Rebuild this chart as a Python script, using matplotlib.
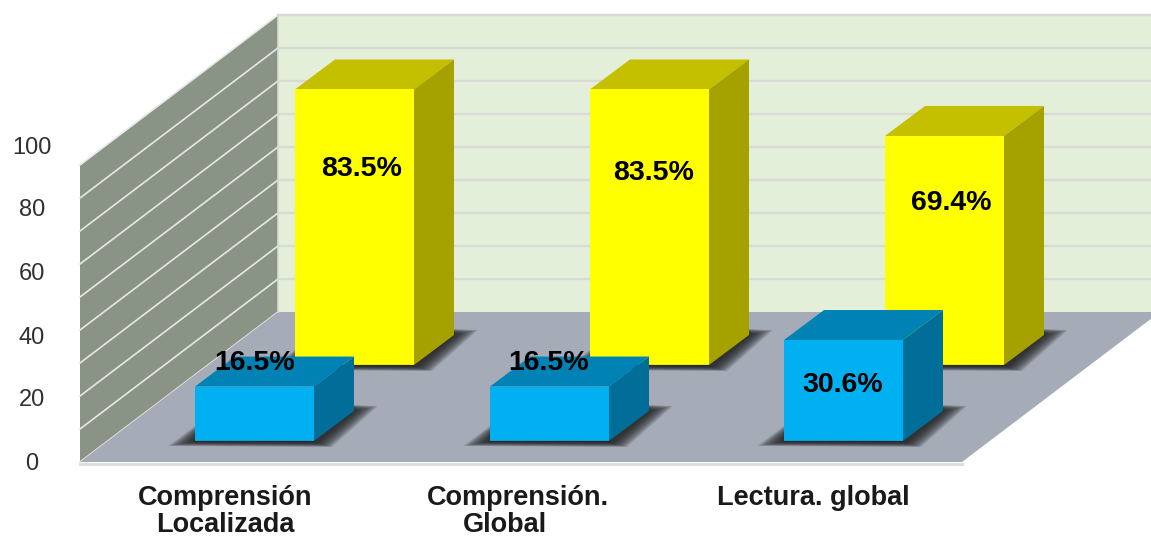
import matplotlib
matplotlib.use("Agg")
import matplotlib.pyplot as plt
from matplotlib.patches import Polygon

plt.rcParams['font.family'] = ['Liberation Sans', 'DejaVu Sans']

# ---- data ----
cat_lines = [["Comprensión", "Localizada"], ["Comprensión.", "Global"], ["Lectura. global"]]
yellow_values = [83.5, 83.5, 69.4]
blue_values = [16.5, 16.5, 30.6]
tick_labels = ["100", "80", "60", "40", "20", "0"]
grid_values = [10, 20, 30, 40, 50, 60, 70, 80, 90]

# ---- layout (pixels) ----
PX_PER_UNIT = 3.3
FLOOR_FRONT_Y, FLOOR_BACK_Y = 462, 312
LEFT_FRONT_X, LEFT_BACK_X = 80, 278
FRONT_RIGHT_X = 962
BAR_W, DEPTH_X, DEPTH_Y = 119, 40, 30
GROUP_STEP = 295
YELLOW_X0, YELLOW_BASE = 295, 365
BLUE_X0, BLUE_BASE = 195, 441

fig = plt.figure(figsize=(11.51, 5.40), dpi=100, facecolor="white")
ax = fig.add_axes([0, 0, 1, 1])
ax.set_xlim(0, 1151)
ax.set_ylim(540, 0)
ax.axis("off")


def poly(pts, color, z=1, alpha=1.0):
    ax.add_patch(Polygon(pts, closed=True, facecolor=color, edgecolor="none", zorder=z, alpha=alpha))


wall_h = 90 * PX_PER_UNIT
back_top = FLOOR_BACK_Y - wall_h
left_top = FLOOR_FRONT_Y - wall_h

# walls + floor
poly([(LEFT_BACK_X, back_top), (1151, back_top), (1151, FLOOR_BACK_Y), (LEFT_BACK_X, FLOOR_BACK_Y)], "#E3EFD9", 1)
poly([(LEFT_FRONT_X, left_top), (LEFT_BACK_X, back_top), (LEFT_BACK_X, FLOOR_BACK_Y), (LEFT_FRONT_X, FLOOR_FRONT_Y)], "#8A9486", 1)
poly([(LEFT_FRONT_X, FLOOR_FRONT_Y), (LEFT_BACK_X, FLOOR_BACK_Y), (1160, FLOOR_BACK_Y), (FRONT_RIGHT_X, FLOOR_FRONT_Y)], "#A5ACB8", 2)
ax.plot([LEFT_FRONT_X, FRONT_RIGHT_X], [FLOOR_FRONT_Y + 1.5] * 2, color="#DADCE0", lw=2, zorder=2)
ax.plot([LEFT_BACK_X, LEFT_BACK_X], [back_top, FLOOR_BACK_Y], color="#D5DCCF", lw=1.2, zorder=2)

for v in grid_values + [0]:
    d = v * PX_PER_UNIT
    if v:
        ax.plot([LEFT_BACK_X, 1151], [FLOOR_BACK_Y - d] * 2, color="#D9DAD6", lw=1.6, zorder=1.5)
    ax.plot([LEFT_FRONT_X, LEFT_BACK_X], [FLOOR_FRONT_Y - d, FLOOR_BACK_Y - d], color="#E6E8E4", lw=1.2, zorder=1.5)
ax.plot([LEFT_BACK_X, 1151], [back_top] * 2, color="#D9DAD6", lw=1.6, zorder=1.5)


def shadow(x, base, z):
    outer = [(x - 27, base + 5), (x, base - 15), (x + BAR_W + DEPTH_X, base - DEPTH_Y - 6),
             (x + BAR_W + DEPTH_X + 24, base - DEPTH_Y - 5), (x + BAR_W + 18, base + 6)]
    core = [(x - 2, base + 1), (x, base - 5), (x + BAR_W + DEPTH_X, base - DEPTH_Y - 2),
            (x + BAR_W + DEPTH_X + 1, base - DEPTH_Y), (x + BAR_W + 3, base + 2)]
    n = 14
    for i in range(n):
        t = i / (n - 1)
        pts = [(a[0] + (b[0] - a[0]) * t, a[1] + (b[1] - a[1]) * t) for a, b in zip(outer, core)]
        poly(pts, "#1E1E1E", z, alpha=0.12)


def bar(x, base, value, front, top, side, z):
    yt = base - value * PX_PER_UNIT
    xr = x + BAR_W
    shadow(x, base, z)
    poly([(x, yt), (xr, yt), (xr + DEPTH_X, yt - DEPTH_Y), (x + DEPTH_X, yt - DEPTH_Y)], top, z + 0.1)
    poly([(xr, yt), (xr + DEPTH_X, yt - DEPTH_Y), (xr + DEPTH_X, base - DEPTH_Y), (xr, base)], side, z + 0.1)
    poly([(x, yt), (xr, yt), (xr, base), (x, base)], front, z + 0.2)
    ax.plot([x, xr], [base, base], color="#202020", lw=1, alpha=0.5, zorder=z + 0.3)


for i, v in enumerate(yellow_values):
    bar(YELLOW_X0 + i * GROUP_STEP, YELLOW_BASE, v, "#FFFF00", "#C4C000", "#A5A200", 3)
for i, v in enumerate(blue_values):
    bar(BLUE_X0 + i * GROUP_STEP - (1 if i == 2 else 0), BLUE_BASE, v, "#00B0F0", "#0083B4", "#006E98", 4)

# value labels
yellow_label_pos = [(362, 168.5), (654, 173.5), (951, 202.5)]
blue_label_pos = [(255, 363.5), (549, 363.5), (843, 384.5)]
for vals, positions in ((yellow_values, yellow_label_pos), (blue_values, blue_label_pos)):
    for v, (x, y) in zip(vals, positions):
        ax.text(x, y, f"{v:.1f}%", ha="center", va="center", fontsize=20.5,
                fontweight="bold", color="black", zorder=6)

# tick labels
tick_y = [147.5, 210.5, 274.5, 337.5, 400.5, 464.5]
for lab, y in zip(tick_labels, tick_y):
    ax.text(32, y, lab, ha="center", va="center", fontsize=17, color="#303030", zorder=6)

# category labels
cat_x = [[225, 225], [518, 505], [813]]
cat_y = [498, 525.5]
for lines, xs in zip(cat_lines, cat_x):
    for line, x, y in zip(lines, xs, cat_y):
        ax.text(x, y, line, ha="center", va="center", fontsize=19.5, fontweight="bold",
                color="#1A1A1A", zorder=6)

fig.savefig("out.png", dpi=100, facecolor="white")
